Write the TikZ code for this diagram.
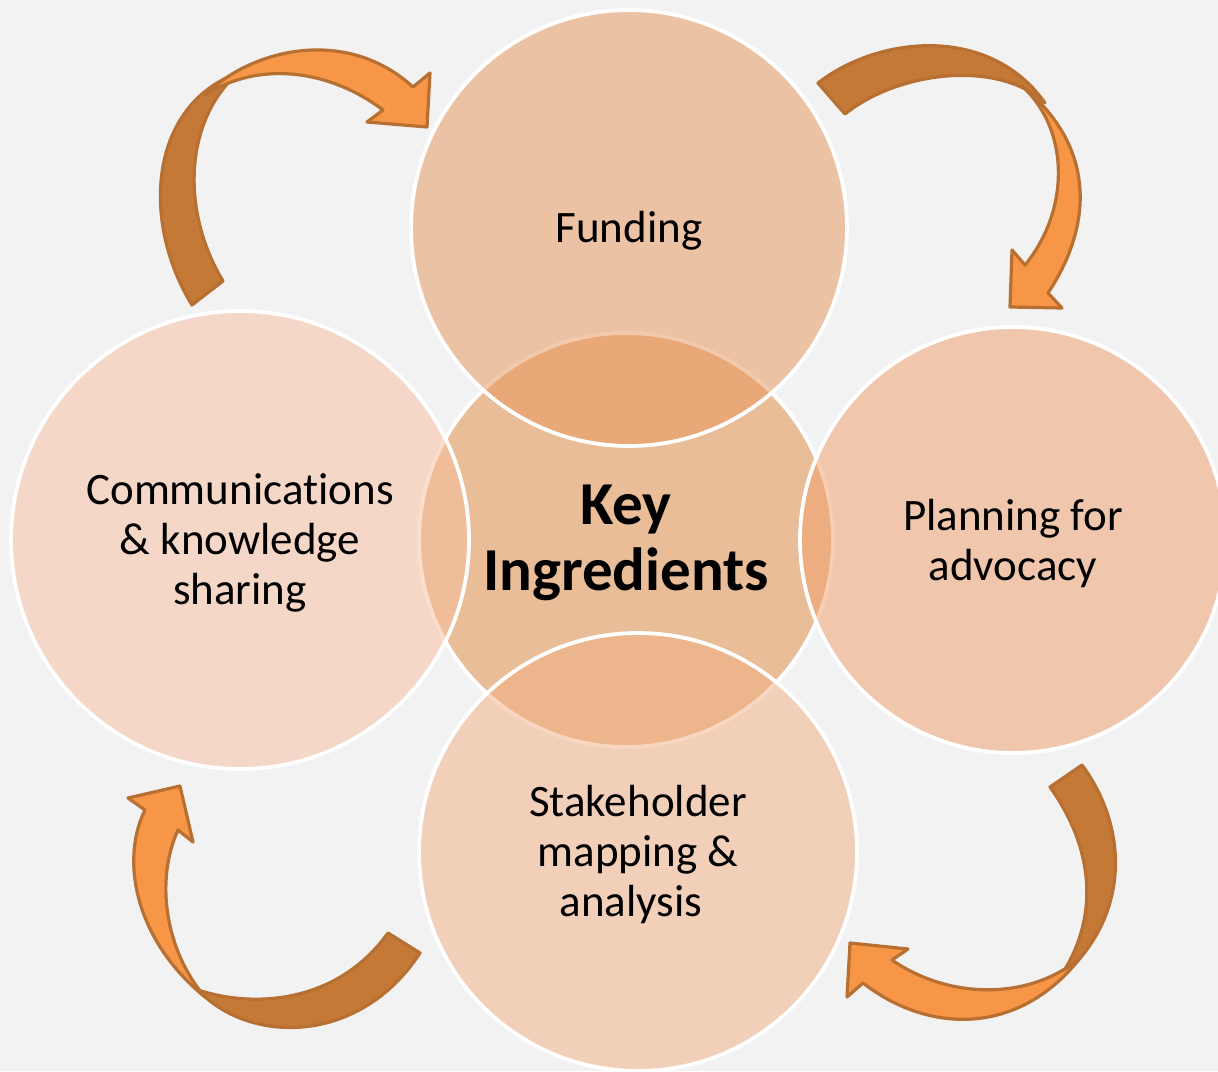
\documentclass[tikz,border=0pt]{standalone}
\usepackage{fontspec}
\setmainfont{Carlito}[Ligatures=NoCommon]
\definecolor{bg}{RGB}{242,242,242}
\definecolor{cen}{RGB}{232,189,152}
\definecolor{cfund}{RGB}{232,148,88}
\definecolor{cplan}{RGB}{240,158,106}
\definecolor{cstake}{RGB}{242,174,130}
\definecolor{ccomm}{RGB}{248,190,158}
\definecolor{arrdark}{RGB}{196,121,55}
\definecolor{arrlight}{RGB}{247,150,70}
\definecolor{arredge}{RGB}{184,112,50}
\begin{document}
\begin{tikzpicture}[x=1pt,y=-1pt,
  ring/.style={circle, inner sep=0pt, draw=white, line width=3.8pt,
    fill opacity=0.5, draw opacity=1},
  lbl/.style={text=black, align=center, inner sep=0pt, font=\fontsize{45}{50}\selectfont},
  arrowback/.style={fill=arrdark, draw=arredge, line width=3.2pt, line join=round},
  arrowfront/.style={fill=arrlight, draw=arredge, line width=3.2pt, line join=round}]
\useasboundingbox (0,0) rectangle (1218,1071);
\fill[bg] (0,0) rectangle (1218,1071);

% centre and outer circles
\node[ring, fill=cen, fill opacity=1, minimum size=414pt] (key) at (626,540) {};
\node[ring, fill=cfund, minimum size=436pt] (fund) at (629,228) {};
\node[ring, fill=cplan, minimum size=426pt] (plan) at (1013,540) {};
\node[ring, fill=cstake, minimum size=438pt] (stake) at (638,852) {};
\node[ring, fill=ccomm, minimum size=458pt] (comm) at (240,540) {};

% texts
\node[lbl, font=\bfseries\fontsize{61}{66}\selectfont] (keyt) at ([yshift=-3pt]key.center) {Key\\Ingredients};
\node[lbl] (fundt) at ([yshift=-3pt]fund.center) {Funding};
\node[lbl] (plant) at ([yshift=-3pt]plan.center) {Planning for\\advocacy};
\node[lbl] (staket) at ([yshift=-2pt]stake.center) {Stakeholder\\mapping \&\\analysis\hspace*{14pt}};
\node[lbl] (commt) at ([yshift=-3pt]comm.center) {Communications\\\& knowledge\\sharing};

% top-left arrow
\filldraw[arrowback] (192,305) .. controls (140,220) and (150,105) .. (238,73)
  .. controls (185,120) and (180,210) .. (223,281) -- cycle;
\filldraw[arrowfront] (205,95) .. controls (250,50) and (345,25) .. (413,87)
  -- (430,73) -- (427,127) -- (367,122) -- (383,110)
  .. controls (330,70) and (260,60) .. (205,95) -- cycle;

% top-right arrow
\filldraw[arrowback] (818,83) .. controls (880,35) and (990,25) .. (1045,103)
  .. controls (1000,60) and (900,70) .. (845,114) -- cycle;
\filldraw[arrowfront] (1022,86) .. controls (1100,150) and (1090,230) .. (1048,293)
  -- (1062,308) -- (1010,307) -- (1012,250) -- (1025,265)
  .. controls (1070,210) and (1070,130) .. (1022,86) -- cycle;

% bottom-right arrow
\filldraw[arrowback] (1082,765) .. controls (1130,830) and (1130,920) .. (1058,980)
  .. controls (1100,920) and (1095,850) .. (1050,787) -- cycle;
\filldraw[arrowfront] (1080,958) .. controls (1020,1035) and (930,1035) .. (863,983)
  -- (847,997) -- (850,943) -- (908,949) -- (892,960)
  .. controls (950,1000) and (1030,1000) .. (1080,958) -- cycle;

% bottom-left arrow
\filldraw[arrowback] (420,953) .. controls (360,1045) and (250,1045) .. (198,990)
  .. controls (260,1010) and (340,1000) .. (388,933) -- cycle;
\filldraw[arrowfront] (205,997) .. controls (135,940) and (120,860) .. (145,810)
  -- (128,798) -- (180,786) -- (193,842) -- (178,830)
  .. controls (155,880) and (165,950) .. (205,997) -- cycle;
\end{tikzpicture}
\end{document}
